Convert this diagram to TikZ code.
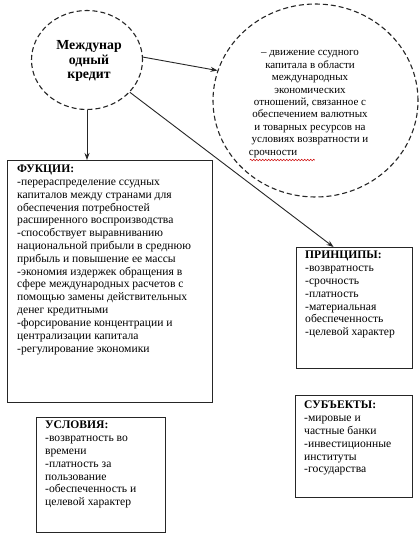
\documentclass[tikz,border=0pt]{standalone}
\usepackage{fontspec}
\setmainfont{Liberation Serif}
\usetikzlibrary{shapes.geometric,arrows.meta,decorations.pathmorphing}
\begin{document}
\begin{tikzpicture}[x=1pt,y=-1pt,
 circ/.style={ellipse,draw=black!85,line width=1.1pt,dash pattern=on 5pt off 3pt,inner sep=0pt},
 box/.style={rectangle,draw=black!85,line width=1.1pt,anchor=north west,inner sep=0pt},
 txt/.style={anchor=north west,align=left,inner sep=0pt,font=\fontsize{11.6}{12.8}\selectfont},
 arr/.style={-{Stealth[length=7pt,width=5pt]},line width=0.9pt,black!85}]
\useasboundingbox[fill=white] (0,0) rectangle (420,538);

% circles
\node[circ,minimum width=111,minimum height=99] (c1) at (87,60) {};
\node[font=\bfseries\fontsize{13.8}{14.5}\selectfont,align=center] (t1) at (89,61) {Междунар\\одный\\кредит};

\node[circ,minimum width=205,minimum height=193] (c2) at (315.5,100.5) {};
\node[align=center,inner sep=0pt,font=\fontsize{11}{12.4}\selectfont] (t2) at (310,104)
 {–  движение ссудного\\капитала в области\\международных\\экономических\\отношений, связанное с\\обеспечением  валютных\\и товарных ресурсов на\\условиях возвратности и\\срочности\hphantom{ возвратности и}};
\draw[red!80!black,line width=0.5pt,decorate,decoration={snake,amplitude=0.8pt,segment length=3pt}]
 ([xshift=1pt,yshift=-2.5pt]t2.south west) -- ([xshift=66pt,yshift=-2.5pt]t2.south west);

% boxes
\node[box,minimum width=205,minimum height=242] (F) at (7,160) {};
\node[box,minimum width=116,minimum height=121] (P) at (296,247) {};
\node[box,minimum width=129,minimum height=115] (U) at (36,417) {};
\node[box,minimum width=117,minimum height=102] (S) at (295,395) {};

\node[txt] (Ft) at (17,165) {\textbf{ФУКЦИИ:}\\
-перераспределение  ссудных\\
капиталов между странами  для\\
обеспечения потребностей\\
расширенного воспроизводства\\
-способствует выравниванию\\
национальной прибыли в среднюю\\
прибыль и повышение ее массы\\
-экономия издержек обращения в\\
сфере международных расчетов с\\
помощью замены действительных\\
денег кредитными\\
-форсирование концентрации и\\
централизации  капитала\\
-регулирование экономики};

\node[txt] (Pt) at (305,251) {\textbf{ПРИНЦИПЫ:}\\-возвратность\\-срочность\\-платность\\-материальная\\обеспеченность\\-целевой характер};
\node[txt] (Ut) at (45,421) {\textbf{УСЛОВИЯ:}\\-возвратность во\\времени\\-платность за\\пользование\\-обеспеченность и\\целевой характер};
\node[txt] (St) at (304,401) {\textbf{СУБЪЕКТЫ:}\\-мировые и\\частные банки\\-инвестиционные\\институты\\-государства};

% arrows
\draw[arr] (c1.3) -- (c2.163);
\draw[arr] (c1.south) -- (c1.south |- F.north);
\draw[arr] (c1.-37) -- ([xshift=-21pt]P.north);
\end{tikzpicture}
\end{document}
